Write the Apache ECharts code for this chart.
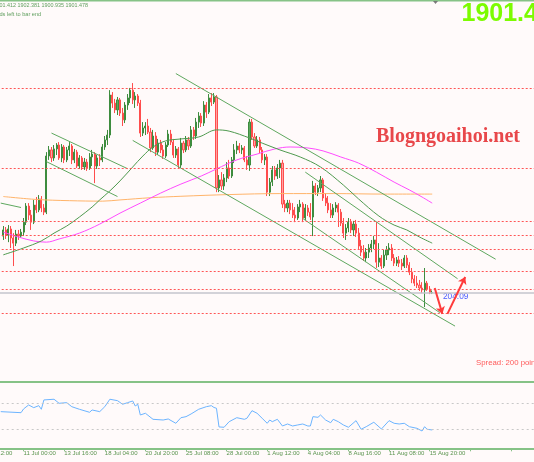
<!DOCTYPE html>
<html><head><meta charset="utf-8">
<script src="https://cdn.jsdelivr.net/npm/echarts@6/dist/echarts.min.js"></script>
<style>html,body{margin:0;padding:0;background:#fffafa;}#c{width:534px;height:462px;}</style>
</head><body><div id="c"></div>
<script>
// ---- data (H4 gold, prices) ----
const LEAD = 8;          // hidden leading categories (left of the visible area)
const NCAT = 218;        // total category slots incl. right-hand empty space
const tickLabels = ['6 Jul 12:00','11 Jul 00:00','13 Jul 16:00','18 Jul 04:00','20 Jul 20:00','25 Jul 08:00','28 Jul 00:00','1 Aug 12:00','4 Aug 04:00','8 Aug 16:00','11 Aug 08:00','15 Aug 20:00'];
const tickEvery = 16;
// [open, close, low, high]
const candles = [
[1924.7,1927.2,1923.1,1928.8],[1927.2,1925.1,1923.5,1928.4],[1925.1,1927.6,1922.2,1929.2],[1927.6,1923.9,1919.8,1928.8],
[1923.9,1921.8,1912.4,1925.9],[1921.8,1925.5,1920.6,1927.2],[1925.5,1924.7,1923.1,1927.2],[1924.7,1926.3,1923.9,1927.6],
[1926.3,1930.4,1924.7,1932.1],[1930.4,1937.0,1929.2,1938.2],[1937.0,1933.3,1931.3,1938.2],[1933.3,1930.4,1927.2,1935.4],
[1930.4,1937.4,1929.6,1939.5],[1937.4,1935.4,1934.1,1940.7],[1935.4,1939.9,1934.5,1941.5],[1939.9,1936.2,1934.5,1941.1],
[1936.2,1934.5,1933.3,1937.8],[1934.5,1957.5,1933.7,1959.1],[1957.5,1960.0,1955.9,1961.6],[1960.0,1956.7,1955.0,1961.2],
[1956.7,1960.4,1955.5,1962.0],[1960.4,1962.0,1957.9,1962.8],[1962.0,1956.7,1955.9,1963.2],[1956.7,1961.2,1955.0,1962.4],
[1961.2,1955.9,1954.6,1962.0],[1955.9,1960.0,1955.0,1961.2],[1960.0,1961.6,1957.5,1963.2],[1961.6,1955.9,1954.2,1962.4],
[1955.9,1959.1,1954.6,1960.4],[1959.1,1953.4,1952.6,1960.0],[1953.4,1956.7,1952.2,1957.9],[1956.7,1953.0,1951.8,1957.5],
[1953.0,1955.0,1951.8,1956.7],[1955.0,1952.6,1951.4,1956.3],[1952.6,1957.1,1951.8,1958.7],[1957.1,1958.3,1953.4,1960.0],
[1958.3,1953.4,1946.4,1959.1],[1953.4,1956.7,1952.2,1957.9],[1956.7,1955.9,1953.4,1958.3],[1955.9,1961.2,1955.0,1962.4],
[1961.2,1964.1,1960.0,1965.7],[1964.1,1966.1,1962.0,1968.2],[1966.1,1982.5,1964.9,1984.5],[1982.5,1979.2,1977.2,1983.7],
[1979.2,1976.4,1975.1,1980.9],[1976.4,1980.5,1974.3,1981.7],[1980.5,1975.1,1973.9,1981.3],[1975.1,1972.3,1969.8,1977.2],
[1972.3,1978.4,1971.0,1979.6],[1978.4,1981.3,1976.4,1982.9],[1981.3,1984.5,1979.2,1985.4],[1984.5,1980.5,1978.8,1987.4],
[1980.5,1982.1,1977.2,1983.7],[1982.1,1979.2,1978.0,1982.9],[1979.2,1966.9,1965.3,1980.5],[1966.9,1969.0,1965.7,1971.4],
[1969.0,1969.8,1966.1,1971.4],[1969.8,1967.3,1966.5,1972.7],[1967.3,1960.8,1959.1,1969.0],[1960.8,1965.7,1960.0,1968.2],
[1965.7,1959.1,1957.5,1967.3],[1959.1,1962.8,1957.9,1964.5],[1962.8,1960.0,1958.7,1964.1],[1960.0,1957.5,1956.3,1962.0],
[1957.5,1962.0,1956.7,1963.2],[1962.0,1966.5,1961.2,1968.2],[1966.5,1963.2,1962.0,1968.2],[1963.2,1957.9,1956.7,1964.5],
[1957.9,1960.4,1956.7,1961.6],[1960.4,1953.8,1952.2,1961.2],[1953.8,1962.8,1952.6,1964.9],[1962.8,1960.0,1958.7,1963.7],
[1960.0,1964.1,1959.1,1965.7],[1964.1,1961.6,1960.0,1965.3],[1961.6,1968.2,1960.8,1969.8],[1968.2,1965.7,1964.1,1969.4],
[1965.7,1971.4,1964.5,1973.1],[1971.4,1973.9,1969.0,1975.5],[1973.9,1971.0,1969.4,1975.1],[1971.0,1978.4,1969.8,1980.0],
[1978.4,1975.5,1973.1,1979.6],[1975.5,1981.3,1974.7,1982.9],[1981.3,1979.6,1978.0,1983.3],[1979.6,1981.7,1978.8,1983.3],
[1981.7,1944.4,1942.7,1982.5],[1944.4,1947.7,1942.7,1949.7],[1947.7,1945.2,1943.6,1950.9],[1945.2,1948.5,1943.6,1950.1],
[1948.5,1952.6,1946.8,1955.0],[1952.6,1949.3,1948.1,1955.9],[1949.3,1955.9,1948.5,1957.1],[1955.9,1960.0,1954.6,1962.4],
[1960.0,1961.6,1958.3,1963.7],[1961.6,1960.0,1958.7,1962.8],[1960.0,1960.8,1958.3,1962.0],[1960.8,1955.9,1955.0,1961.6],
[1955.9,1953.8,1951.8,1957.5],[1953.8,1971.4,1951.4,1972.7],[1971.4,1965.3,1964.1,1972.7],[1965.3,1961.6,1960.8,1966.9],
[1961.6,1964.1,1960.8,1965.7],[1964.1,1960.0,1958.7,1965.3],[1960.0,1955.9,1954.6,1961.2],[1955.9,1957.1,1953.8,1958.3],
[1957.1,1942.7,1941.1,1958.3],[1942.7,1946.8,1941.1,1948.5],[1946.8,1951.8,1945.2,1953.4],[1951.8,1949.3,1947.7,1953.4],
[1949.3,1952.6,1948.1,1954.2],[1952.6,1954.6,1948.5,1955.9],[1954.6,1937.8,1936.2,1955.9],[1937.8,1936.2,1934.5,1939.5],
[1936.2,1938.2,1934.5,1939.5],[1938.2,1935.4,1933.7,1939.5],[1935.4,1933.3,1932.1,1938.2],[1933.3,1932.1,1930.4,1936.6],
[1932.1,1936.6,1931.3,1937.8],[1936.6,1937.8,1934.5,1939.5],[1937.8,1932.1,1930.4,1938.6],[1932.1,1936.2,1931.3,1937.8],
[1936.2,1934.5,1932.9,1937.4],[1934.5,1932.5,1931.3,1938.2],[1932.5,1945.2,1924.7,1947.3],[1945.2,1942.7,1941.5,1946.4],
[1942.7,1944.4,1941.1,1945.6],[1944.4,1947.7,1942.7,1949.3],[1947.7,1940.3,1939.1,1948.5],[1940.3,1938.2,1937.0,1942.3],
[1938.2,1935.4,1934.1,1941.1],[1935.4,1933.3,1932.1,1938.2],[1933.3,1936.2,1932.1,1937.8],[1936.2,1937.4,1934.5,1938.6],
[1937.4,1934.5,1928.4,1938.2],[1934.5,1930.0,1928.8,1935.8],[1930.0,1925.9,1923.9,1932.1],[1925.9,1928.0,1923.1,1929.6],
[1928.0,1930.4,1926.3,1932.1],[1930.4,1927.2,1925.9,1931.7],[1927.2,1929.6,1924.7,1930.9],[1929.6,1925.9,1924.3,1931.3],
[1925.9,1920.6,1919.4,1928.0],[1920.6,1918.1,1916.5,1923.1],[1918.1,1915.7,1914.5,1921.0],[1915.7,1918.1,1914.0,1919.8],
[1918.1,1919.8,1915.7,1921.4],[1919.8,1921.4,1918.1,1923.1],[1921.4,1923.1,1919.4,1924.7],[1923.1,1914.0,1911.6,1930.4],
[1914.0,1915.7,1912.0,1921.8],[1915.7,1912.4,1911.2,1916.9],[1912.4,1916.9,1911.6,1919.0],[1916.9,1919.0,1914.9,1920.6],
[1919.0,1919.8,1916.9,1921.8],[1919.8,1915.7,1914.5,1921.4],[1915.7,1913.6,1912.4,1917.3],[1913.6,1914.9,1912.4,1916.1],
[1914.9,1913.6,1912.0,1916.5],[1913.6,1912.4,1910.8,1915.3],[1912.4,1915.7,1911.6,1916.9],[1915.7,1912.8,1911.6,1916.9],
[1912.8,1909.9,1908.7,1914.0],[1909.9,1907.1,1905.4,1911.6],[1907.1,1905.4,1904.2,1908.7],[1905.4,1904.6,1903.4,1908.3],
[1904.6,1903.4,1902.2,1906.7],[1903.4,1902.6,1901.3,1905.8],[1902.6,1905.4,1895.6,1911.6],[1905.4,1903.0,1902.2,1906.3],
[1903.0,1901.4,1900.9,1904.2],[1901.412,1901.478,1900.935,1902.381]
];
// moving averages: [barIndex, value]
const maGreen = [[0,1917.0],[8,1919.8],[15,1922.7],[20,1925.9],[25,1928.8],[30,1932.5],[35,1936.6],[38,1939.5],[42,1943.2],[46,1947.3],[51,1953.0],[55,1957.5],[59,1961.2],[64,1963.7],[70,1964.5],[77,1965.3],[84,1968.2],[89,1967.7],[97,1964.9],[102,1962.8],[109,1960.0],[117,1957.1],[125,1953.0],[134,1945.6],[140,1939.9],[148,1932.9],[154,1929.2],[159,1927.2],[164,1924.3],[169,1921.8]];
const maMagenta = [[0,1926.3],[6,1924.3],[12,1922.7],[17,1922.2],[22,1923.5],[30,1925.9],[38,1929.6],[46,1934.1],[54,1938.2],[62,1942.3],[70,1946.0],[78,1949.3],[84,1952.2],[92,1955.9],[100,1958.3],[107,1960.4],[113,1961.2],[120,1960.8],[126,1959.6],[133,1957.1],[140,1954.6],[147,1950.9],[154,1946.8],[160,1943.6],[165,1940.7],[169,1938.2]];
const maOrange = [[0,1940.9],[13,1939.7],[26,1939.2],[39,1939.0],[46,1939.5],[58,1940.4],[70,1941.0],[89,1941.7],[109,1942.1],[130,1942.1],[150,1941.9],[169,1941.9]];
// trend lines: [[barIndex, price], [barIndex, price]]
const trendLines = [
  [[68,1991.3],[194,1915.2]],
  [[51,1963.9],[178,1887.8]],
  [[119,1950.9],[179,1907.2]],
  [[118,1931.9],[172,1893.3]],
  [[19,1966.9],[49,1952.3]],
  [[17,1955.2],[45,1940.9]],
  [[-1,1938.2],[7,1936.4]]
];
const arrows = [ [[170,1903.4],[173,1892.8]], [[175,1892.8],[182,1907.9]] ];
const levels = [1985.1,1952.5,1930.7,1925.0,1919.4,1910.3,1903.1,1893.0];
const lastPrice = 1901.478;
// oscillator (lower pane): [barIndex, value]
const osc = [[-1,57.0],[7,55.4],[8,61.2],[10,67.4],[12,63.2],[14,66.3],[15,60.7],[16,75.2],[20,76.3],[22,70.0],[25,71.0],[27,64.7],[30,60.7],[34,56.0],[35,59.6],[38,57.0],[40,64.7],[42,76.3],[45,74.1],[47,68.5],[49,71.0],[51,73.6],[52,65.8],[53,68.5],[54,51.8],[56,54.5],[59,45.1],[63,44.0],[65,45.6],[68,38.9],[70,47.6],[72,49.2],[74,53.4],[77,60.7],[80,64.7],[82,66.3],[83,63.5],[84,62.3],[85,33.2],[87,32.7],[89,41.4],[92,47.6],[95,45.1],[96,46.7],[98,58.5],[100,54.5],[102,46.7],[104,38.9],[105,44.0],[106,41.4],[108,45.1],[110,34.7],[112,37.8],[114,34.7],[116,36.3],[118,37.8],[120,34.7],[121,34.7],[122,49.2],[124,48.2],[125,51.8],[127,44.0],[129,39.8],[130,45.1],[132,41.4],[134,36.3],[136,32.7],[139,43.0],[141,29.6],[143,33.6],[146,40.5],[149,30.0],[152,43.0],[154,38.9],[156,37.8],[158,38.9],[160,33.6],[163,31.1],[165,26.9],[166,33.6],[167,29.6],[169,28.5]];
const oscLevels = [30,70];

// ---- build ----
const cats = Array.from({length: NCAT}, (_, k) => String(k));
const sh = p => [p[0] + LEAD, p[1]];
const candleData = Array(LEAD).fill('-').concat(candles);
const GL = -18.3, BW = 2.538;
const FONT = 'Liberation Sans';
const GREEN = '#86c286';
const tickShow = (idx) => idx % tickEvery === 0;

const series = [];
series.push({
  type: 'candlestick', xAxisIndex: 0, yAxisIndex: 0, data: candleData, barWidth: 1.6,
  itemStyle: {color: '#5da85d', color0: '#ffa3a3', borderColor: '#3e8c3e', borderColor0: '#ff4d4d', borderWidth: 1},
  markLine: {
    silent: true, symbol: 'none', label: {show: false}, animation: false,
    data: levels.map(v => ({yAxis: v, lineStyle: {color: '#ff5555', type: [2, 2], width: 1}}))
      .concat([{yAxis: lastPrice, lineStyle: {color: '#c4c4cc', type: 'solid', width: 1.5}}])
  }
});
[[maOrange, '#ffb46a'], [maMagenta, '#ff4cff'], [maGreen, '#4f9a4f']].forEach(([d, c]) => {
  series.push({type: 'line', xAxisIndex: 0, yAxisIndex: 0, data: d.map(sh), showSymbol: false, smooth: 0.35,
    lineStyle: {color: c, width: 1}, silent: true});
});
trendLines.forEach(t => {
  series.push({type: 'line', xAxisIndex: 0, yAxisIndex: 0, data: t.map(sh), showSymbol: false,
    lineStyle: {color: '#5fa85f', width: 1}, silent: true});
});
series.push({
  type: 'line', xAxisIndex: 0, yAxisIndex: 0, data: [], silent: true,
  markLine: {
    symbol: ['none', 'arrow'], symbolSize: 7, label: {show: false}, animation: false,
    lineStyle: {color: '#ff3b3b', width: 2, type: 'solid'},
    data: arrows.map(a => [{coord: sh(a[0])}, {coord: sh(a[1])}])
  }
});
series.push({
  type: 'line', xAxisIndex: 1, yAxisIndex: 1, data: osc.map(sh), showSymbol: false,
  lineStyle: {color: '#6cb4ff', width: 1}, silent: true,
  markLine: {symbol: 'none', label: {show: false}, silent: true, animation: false,
    lineStyle: {color: '#c8c8c8', type: [2, 3], width: 1},
    data: oscLevels.map(v => ({yAxis: v}))}
});

const option = {
  backgroundColor: '#fffafa',
  animation: false,
  grid: [
    {left: GL, width: BW * NCAT, top: 0, height: 381.5, outerBoundsMode: 'none', containLabel: false},
    {left: GL, width: BW * NCAT, top: 384, height: 64.3, outerBoundsMode: 'none', containLabel: false}
  ],
  xAxis: [
    {type: 'category', gridIndex: 0, data: cats, boundaryGap: true,
     axisLine: {show: true, lineStyle: {color: GREEN, width: 2}}, axisTick: {show: false}, axisLabel: {show: false}, splitLine: {show: false}},
    {type: 'category', gridIndex: 1, data: cats, boundaryGap: true,
     axisLine: {show: true, lineStyle: {color: GREEN, width: 2}},
     axisTick: {show: true, alignWithLabel: true, interval: tickShow, length: 3, lineStyle: {color: GREEN, width: 1}},
     axisLabel: {show: true, interval: tickShow, align: 'left', margin: 2, fontSize: 6, color: '#5a944e', fontFamily: FONT,
       hideOverlap: false, formatter: (v, idx) => tickLabels[idx / tickEvery] || ''},
     splitLine: {show: false}}
  ],
  yAxis: [
    {type: 'value', gridIndex: 0, min: 1865.09, max: 2021.44, show: false, splitLine: {show: false}},
    {type: 'value', gridIndex: 1, min: 0, max: 100, show: false, splitLine: {show: false}}
  ],
  series: series,
  graphic: [
    {type: 'line', shape: {x1: 0, y1: 0.75, x2: 534, y2: 0.75}, style: {stroke: GREEN, lineWidth: 1.5}, silent: true},
    {type: 'polygon', shape: {points: [[433, 1], [438, 1], [435.5, 4]]}, style: {fill: '#7a7a7a'}, silent: true},
    {type: 'text', left: -0.5, top: 2.7, silent: true,
     style: {text: '01.412 1902.381 1900.935 1901.478', font: '5.4px "Liberation Sans"', fill: '#62a060'}},
    {type: 'text', left: -0.5, top: 11.5, silent: true,
     style: {text: 'ds left to bar end', font: '5.6px "Liberation Sans"', fill: '#62a060'}},
    {type: 'text', left: 461.5, top: 2, silent: true,
     style: {text: '1901.4', font: 'bold 25px "Liberation Sans"', fill: '#7cfc00'}},
    {type: 'text', left: 376, top: 127, silent: true,
     style: {text: 'Blogngoaihoi.net', font: 'bold 20px "Liberation Serif"', fill: '#e8474a',
       shadowColor: 'rgba(60,60,60,0.45)', shadowBlur: 2, shadowOffsetX: 2, shadowOffsetY: 2}},
    {type: 'text', left: 476, top: 359, silent: true,
     style: {text: 'Spread: 200 points', font: '7.8px "Liberation Sans"', fill: '#ff5a5a'}},
    {type: 'text', left: 443, top: 292.5, silent: true,
     style: {text: '204:09', font: '8.3px "Liberation Sans"', fill: '#4a5cff'}}
  ]
};
const chart = echarts.init(document.getElementById('c'), null, {renderer: 'canvas'});
chart.setOption(option);
</script>
</body></html>
